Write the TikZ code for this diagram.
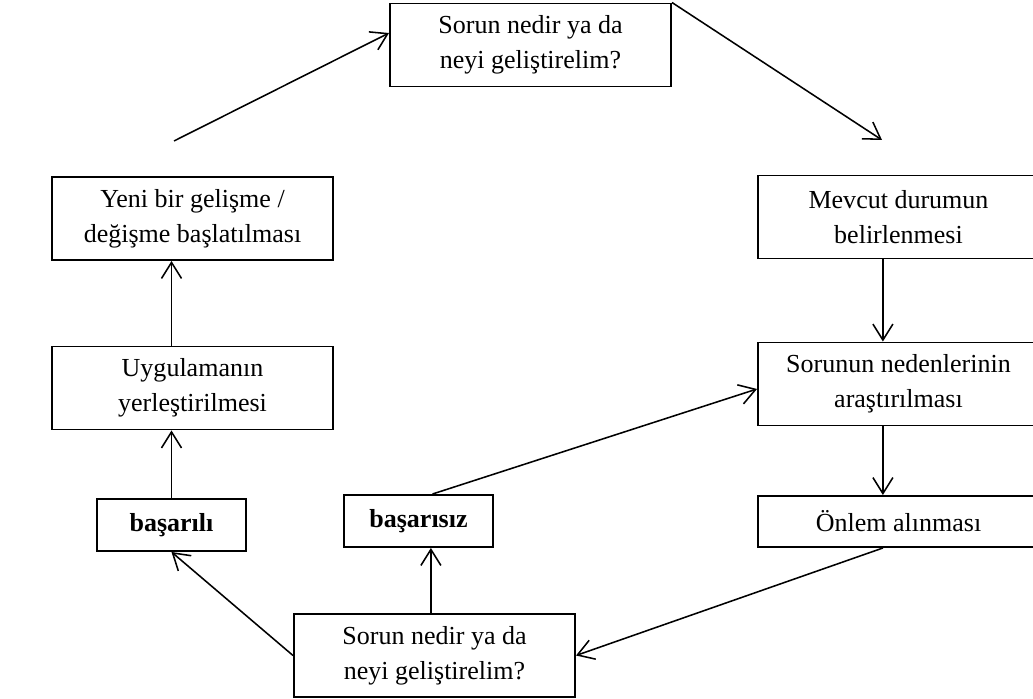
\documentclass[tikz,border=0pt]{standalone}
\usepackage{fontspec}
\setmainfont{Liberation Serif}
\usetikzlibrary{arrows.meta, positioning, calc}

\begin{document}
\begin{tikzpicture}[
  x=0.25mm, y=-0.25mm,
  sbox/.style={draw, line width=1.4pt, minimum width=70.25mm, minimum height=20.75mm, align=center, inner sep=0pt, font=\fontsize{18.5}{25}\selectfont},
  rbox/.style={draw, line width=1.4pt, minimum width=37.25mm, minimum height=13mm, inner sep=0pt, align=center, font=\fontsize{18.5}{25}\selectfont\bfseries},
  arr/.style={-{Straight Barb[length=4mm, width=5mm]}, line width=1.1pt}
]
  \useasboundingbox (0,0) rectangle (1033,699);
  \node[sbox] (top) at (530.5, 45) {Sorun nedir ya da\\neyi geliştirelim?};
  \node[sbox] (yeni) at (192.5, 218.5) {Yeni bir gelişme /\\değişme başlatılması};
  \node[sbox] (uyg) at (192.5, 388) {Uygulamanın\\yerleştirilmesi};
  \node[rbox] (basarili) at (171.5, 525) {başarılı\vphantom{g}};
  \node[rbox] (basarisiz) at (418.5, 521) {başarısız\vphantom{g}};
  \node[sbox] (bot) at (434.5, 655.5) {Sorun nedir ya da\\neyi geliştirelim?};
  \node[sbox] (mevcut) at (898.5, 217) {Mevcut durumun\\belirlenmesi};
  \node[sbox] (neden) at (898.5, 384) {Sorunun nedenlerinin\\araştırılması};
  \node[sbox, minimum height=12.75mm] (onlem) at (898.5, 521.5) {Önlem alınması};
  \coordinate (start) at (174, 141);
  \coordinate (tip) at (882, 140);

  % cycle
  \draw[arr] (start) -- ([yshift=3mm]top.west);
  \draw[arr] (top.north east) -- (tip);
  \draw[arr] ([xshift=-3.9mm]mevcut.south) -- ([xshift=-3.9mm]neden.north);
  \draw[arr] ([xshift=-3.9mm]neden.south) -- ([xshift=-3.9mm]onlem.north);
  \draw[arr] ([xshift=-3.9mm]onlem.south) -- (bot.east);
  \draw[arr] (bot.west) -- (basarili.south);
  \draw[arr] ([xshift=-0.9mm]bot.north) -- ([xshift=-0.9mm]bot.north |- basarisiz.south);
  \draw[arr] ([xshift=3.5mm]basarisiz.north) -- ([yshift=-1.25mm]neden.west);
  \draw[arr] (basarili.north) -- (basarili.north |- uyg.south);
  \draw[arr] (basarili.north |- uyg.north) -- (basarili.north |- yeni.south);
\end{tikzpicture}
\end{document}
